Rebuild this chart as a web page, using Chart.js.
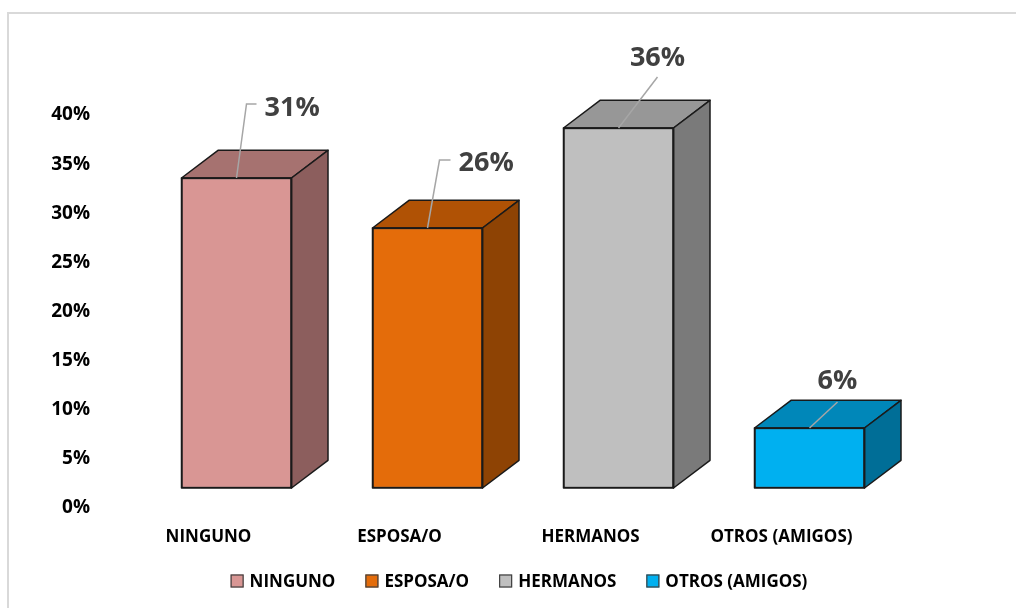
<!DOCTYPE html>
<html>
<head>
<meta charset="utf-8">
<script src="https://cdn.jsdelivr.net/npm/chart.js@4.4.1/dist/chart.umd.min.js"></script>
<style>
  html, body { margin: 0; padding: 0; background: #fff; overflow: hidden; }
  #wrap { position: relative; width: 1016px; height: 608px; }
  #frame { position: absolute; left: 7px; top: 12px; width: 1100px; height: 700px;
           border-left: 2px solid #d9d9d9; border-top: 2px solid #d9d9d9;
           box-sizing: border-box; pointer-events: none; }
  canvas { position: absolute; left: 0; top: 0; }
</style>
</head>
<body>
<div id="wrap">
  <canvas id="c" width="1016" height="608"></canvas>
  <div id="frame"></div>
</div>
<script>
// Categories and their shares (%)
const categories = ['NINGUNO', 'ESPOSA/O', 'HERMANOS', 'OTROS (AMIGOS)'];
const shares = [31, 26, 36, 6];

// Value axis ticks (%)
const tickMin = 0;
const tickMax = 40;
const tickStep = 5;

// Face colours of each box: front, top, right side
const frontColors = ['#D99694', '#E46C0A', '#BFBFBF', '#00B0F0'];
const topColors   = ['#A67270', '#B05205', '#979797', '#0087B9'];
const sideColors  = ['#8C5E5D', '#8E4304', '#7A7A7A', '#006E97'];

const FONT = "'Open Sans', 'DejaVu Sans', sans-serif";

// Extruded boxes, leader lines, value labels and the legend row
const bar3d = {
  id: 'bar3d',
  afterDatasetsDraw(chart, args, opts) {
    const ctx = chart.ctx;
    const meta = chart.getDatasetMeta(0);
    meta.data.forEach((bar, i) => {
      const p = bar.getProps(['x', 'y', 'base', 'width'], true);
      const l = p.x - p.width / 2, r = p.x + p.width / 2;
      const dx = opts.depthX, dy = opts.depthY;
      ctx.save();
      ctx.lineJoin = 'round';
      ctx.strokeStyle = opts.edgeColor;
      ctx.lineWidth = opts.edgeWidth;
      // top face
      ctx.beginPath();
      ctx.moveTo(l, p.y); ctx.lineTo(l + dx, p.y + dy);
      ctx.lineTo(r + dx, p.y + dy); ctx.lineTo(r, p.y);
      ctx.closePath();
      ctx.fillStyle = topColors[i]; ctx.fill(); ctx.stroke();
      // right side face
      ctx.beginPath();
      ctx.moveTo(r, p.y); ctx.lineTo(r + dx, p.y + dy);
      ctx.lineTo(r + dx, p.base + dy); ctx.lineTo(r, p.base);
      ctx.closePath();
      ctx.fillStyle = sideColors[i]; ctx.fill(); ctx.stroke();
      // front outline again so shared edges stay crisp
      ctx.strokeRect(l, p.y, p.width, p.base - p.y);
      ctx.restore();
    });

    // leader lines and value labels
    meta.data.forEach((bar, i) => {
      const p = bar.getProps(['x', 'y'], true);
      const ld = opts.leaders[i];
      ctx.save();
      ctx.strokeStyle = opts.leaderColor;
      ctx.lineWidth = 1.5;
      ctx.beginPath();
      ld.path.forEach(([ox, oy], k) => {
        if (k === 0) ctx.moveTo(p.x + ox, p.y + oy); else ctx.lineTo(p.x + ox, p.y + oy);
      });
      ctx.stroke();
      ctx.fillStyle = opts.labelColor;
      ctx.font = 'bold 27px ' + FONT;
      ctx.textAlign = ld.align;
      ctx.textBaseline = 'alphabetic';
      ctx.fillText(shares[i] + '%', p.x + ld.text[0], p.y + ld.text[1]);
      ctx.restore();
    });
  },
  afterDraw(chart, args, opts) {
    const ctx = chart.ctx;
    const lg = opts.legend;
    ctx.save();
    ctx.font = 'bold 17px ' + FONT;
    const widths = categories.map(c => ctx.measureText(c).width);
    const itemW = widths.map(w => lg.box + lg.boxGap + w);
    const total = itemW.reduce((a, b) => a + b, 0) + lg.itemGap * (categories.length - 1);
    let x = lg.centerX - total / 2;
    categories.forEach((c, i) => {
      ctx.fillStyle = frontColors[i];
      ctx.fillRect(x, lg.y - lg.box / 2, lg.box, lg.box);
      ctx.strokeStyle = '#404040';
      ctx.lineWidth = 1.2;
      ctx.strokeRect(x + 0.5, lg.y - lg.box / 2 + 0.5, lg.box - 1, lg.box - 1);
      ctx.fillStyle = '#000';
      ctx.textAlign = 'left';
      ctx.textBaseline = 'middle';
      ctx.fillText(c, x + lg.box + lg.boxGap, lg.y + 1);
      x += itemW[i] + lg.itemGap;
    });
    ctx.restore();
  }
};

new Chart(document.getElementById('c'), {
  type: 'bar',
  data: {
    labels: categories,
    datasets: [{
      data: shares,
      yAxisID: 'yb',
      backgroundColor: frontColors,
      borderColor: '#1a1a1a',
      borderWidth: 1.5,
      borderSkipped: false,
      barThickness: 110,
      clip: false
    }]
  },
  options: {
    responsive: false,
    animation: false,
    events: [],
    layout: { padding: { left: 0, right: 111, top: 115, bottom: 0 } },
    scales: {
      x: {
        grid: { display: false, drawTicks: false },
        border: { display: false },
        ticks: {
          labelOffset: -28,
          padding: 19,
          color: '#000',
          font: { family: FONT, size: 17, weight: 'bold' }
        },
        afterFit(s) { s.height = 100; }
      },
      y: {
        position: 'left',
        min: tickMin,
        max: tickMax,
        grid: { display: false, drawTicks: false },
        border: { display: false },
        ticks: {
          stepSize: tickStep,
          padding: 51,
          color: '#000',
          font: { family: FONT, size: 19, weight: 'bold' },
          callback: v => v + '%'
        },
        afterFit(s) { s.width = 141; }
      },
      // scale the boxes' front faces are measured on (floor sits below the wall's 0%)
      yb: { display: false, min: -2, max: 37.3 }
    },
    plugins: {
      legend: { display: false },
      tooltip: { enabled: false },
      bar3d: {
        depthX: 36.5,
        depthY: -27.7,
        edgeColor: '#1a1a1a',
        edgeWidth: 1.5,
        leaderColor: '#a6a6a6',
        labelColor: '#404040',
        leaders: [
          { path: [[0, 0], [10, -74], [20, -74]], text: [28, -62], align: 'left' },
          { path: [[0, 0], [12, -68], [23, -68]], text: [31, -57], align: 'left' },
          { path: [[0, 0], [39, -51]], text: [39, -62], align: 'center' },
          { path: [[0, 0], [28, -26]], text: [28, -39], align: 'center' }
        ],
        legend: { centerX: 519, y: 581, box: 13, boxGap: 6, itemGap: 30 }
      }
    }
  },
  plugins: [bar3d]
});
</script>
</body>
</html>
